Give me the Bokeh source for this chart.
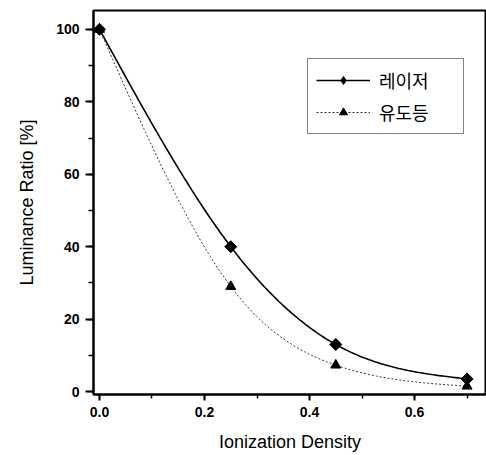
import numpy as np
from bokeh.plotting import figure
from bokeh.models import (Range1d, SingleIntervalTicker, NumeralTickFormatter,
                          Legend, LegendItem)
from bokeh.embed import file_html
from bokeh.resources import INLINE

# ---- data ----
x_vals = [0.0, 0.25, 0.45, 0.70]
laser = [100, 40, 13, 3.5]
guide = [100, 29, 7.3, 1.5]
series_names = ["레이저", "유도등"]
x_title = "Ionization Density"
y_title = "Luminance Ratio [%]"


def natural_spline(xs, ys, n=200):
    xs = np.asarray(xs, float)
    ys = np.asarray(ys, float)
    k = len(xs)
    h = np.diff(xs)
    A = np.zeros((k, k))
    b = np.zeros(k)
    A[0, 0] = A[-1, -1] = 1
    for i in range(1, k - 1):
        A[i, i - 1] = h[i - 1]
        A[i, i] = 2 * (h[i - 1] + h[i])
        A[i, i + 1] = h[i]
        b[i] = 3 * ((ys[i + 1] - ys[i]) / h[i] - (ys[i] - ys[i - 1]) / h[i - 1])
    c = np.linalg.solve(A, b)
    xx = np.linspace(xs[0], xs[-1], n)
    yy = np.empty_like(xx)
    for j, t in enumerate(xx):
        i = min(np.searchsorted(xs, t, side="right") - 1, k - 2)
        dx = t - xs[i]
        bi = (ys[i + 1] - ys[i]) / h[i] - h[i] * (2 * c[i] + c[i + 1]) / 3
        di = (c[i + 1] - c[i]) / (3 * h[i])
        yy[j] = ys[i] + bi * dx + c[i] * dx ** 2 + di * dx ** 3
    return xx, yy


FONT = "Liberation Sans"

p = figure(width=486, height=455, output_backend="svg", toolbar_location=None,
           x_range=Range1d(-0.0114, 0.737), y_range=Range1d(-0.8, 105.2),
           min_border_left=93, min_border_right=0, min_border_top=10,
           min_border_bottom=61)
p.grid.visible = False
p.outline_line_color = "black"
p.outline_line_width = 2
p.background_fill_color = "white"
p.border_fill_color = "white"

p.xaxis.ticker = SingleIntervalTicker(interval=0.2, num_minor_ticks=2)
p.xaxis.formatter = NumeralTickFormatter(format="0.0")
p.yaxis.ticker = SingleIntervalTicker(interval=20, num_minor_ticks=2)

for ax in (p.xaxis, p.yaxis):
    ax.axis_line_width = 2
    ax.axis_line_color = "black"
    ax.major_tick_line_width = 2
    ax.minor_tick_line_width = 1.5
    ax.major_tick_in = 0
    ax.minor_tick_in = 0
    ax.major_label_text_font = FONT
    ax.major_label_text_font_size = "14px"
    ax.major_label_text_font_style = "bold"
    ax.major_label_text_color = "black"
    ax.axis_label_text_font = FONT
    ax.axis_label_text_font_size = "18px"
    ax.axis_label_text_font_style = "normal"
    ax.axis_label_text_color = "black"

p.yaxis.major_tick_out = 8
p.yaxis.minor_tick_out = 5
p.xaxis.major_tick_out = 6
p.xaxis.minor_tick_out = 4
p.yaxis.major_label_standoff = 6
p.xaxis.major_label_standoff = 6
p.yaxis.axis_label_standoff = 16
p.xaxis.axis_label_standoff = 12
p.xaxis.axis_label = x_title
p.yaxis.axis_label = y_title

lx, ly = natural_spline(x_vals, laser)
gx, gy = natural_spline(x_vals, guide)

l1 = p.line(lx, ly, line_color="black", line_width=1.6)
# diamond used for the legend key; covered on the plot by the rotated squares
k1 = p.scatter(x_vals, laser, marker="diamond", size=11, fill_color="black",
               line_color="black")
m1 = p.scatter(x_vals, laser, marker="square", angle=np.pi / 4, size=8.5,
               fill_color="black", line_color="black")
l2 = p.line(gx, gy, line_color="#333333", line_width=1, line_dash="2 2")
m2 = p.scatter(x_vals, guide, marker="triangle", size=10, fill_color="black",
               line_color="black")

legend = Legend(items=[LegendItem(label=series_names[0], renderers=[l1, k1]),
                       LegendItem(label=series_names[1], renderers=[l2, m2])],
                location=(214, 260))
legend.border_line_color = "black"
legend.border_line_width = 1
legend.background_fill_alpha = 1
legend.padding = 8
legend.spacing = 6
legend.glyph_width = 54
legend.glyph_height = 20
legend.label_height = 20
legend.label_width = 76
legend.label_standoff = 9
legend.margin = 0
legend.label_text_font = "Noto Sans CJK KR"
legend.label_text_font_size = "18px"
legend.label_text_color = "black"
p.add_layout(legend, "center")

open("out.html", "w").write(file_html(p, INLINE))
